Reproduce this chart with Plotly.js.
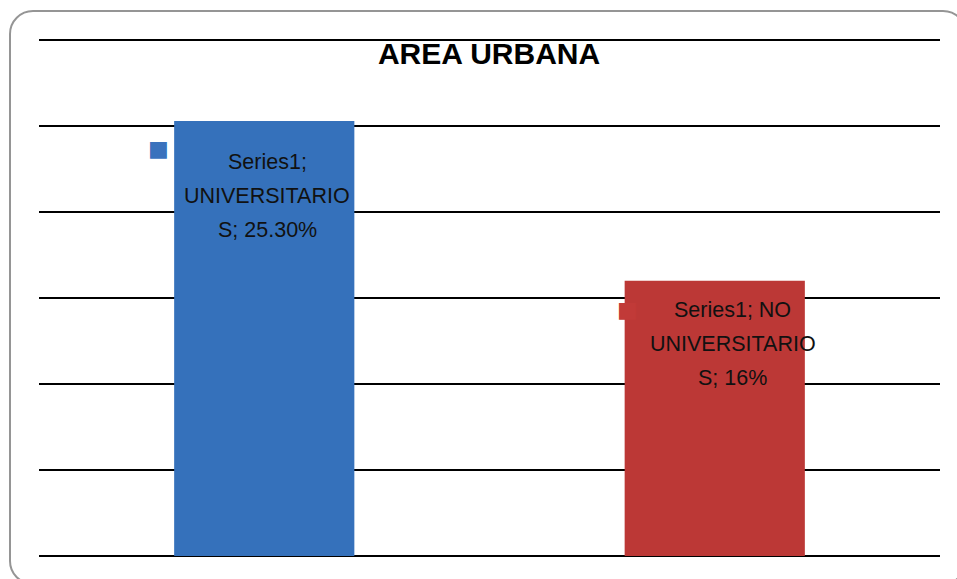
<!DOCTYPE html>
<html>
<head>
<meta charset="utf-8">
<script src="https://cdn.plot.ly/plotly-3.0.1.min.js"></script>
<style>
html,body{margin:0;padding:0;background:#fff;overflow:hidden;}
#chart{width:957px;height:579px;}
#frame{position:absolute;left:9px;top:10px;width:958px;height:575px;border:2px solid #959595;border-radius:24px;pointer-events:none;box-sizing:border-box;}
</style>
</head>
<body>
<div id="chart"></div>
<div id="frame"></div>
<script>
const categories = ["UNIVERSITARIOS", "NO UNIVERSITARIOS"];
const values = [25.3, 16];
const labelLines = [["Series1;", "UNIVERSITARIO", "S; 25.30%"], ["Series1; NO", "UNIVERSITARIO", "S; 16%"]];
const colors = ["#3571bb", "#bc3836"];
const keyColors = ["#3a72bd", "#c13a38"];
const yTicks = [0, 5, 10, 15, 20, 25, 30];

const trace = {
  type: "bar",
  x: categories,
  y: values,
  marker: {color: colors, line: {width: 0}},
  hoverinfo: "none"
};

const labelStyle = [{xshift: 3, yshift0: -41}, {xshift: 18, yshift0: -29}];
const annotations = [];
categories.forEach((c, i) => {
  labelLines[i].forEach((t, k) => {
    annotations.push({x: c, y: values[i], xref: "x", yref: "y", text: t, showarrow: false,
      xanchor: "center", yanchor: "middle",
      xshift: labelStyle[i].xshift, yshift: labelStyle[i].yshift0 - 34 * k,
      font: {family: "Liberation Sans, Arial", size: 21.5, color: "#111"}});
  });
});
// legend keys
const keyShift = [{x: -106, y: -28}, {x: -87, y: -29}];
categories.forEach((c, i) => {
  annotations.push({x: c, y: values[i], xref: "x", yref: "y", text: "■", showarrow: false,
    xanchor: "center", yanchor: "middle", xshift: keyShift[i].x, yshift: keyShift[i].y,
    font: {family: "DejaVu Sans", size: 22, color: keyColors[i]}});
});

const layout = {
  width: 957, height: 579,
  margin: {l: 39, r: 17, t: 38, b: 21, pad: 0},
  paper_bgcolor: "#fff", plot_bgcolor: "#fff",
  title: {text: "<b>AREA URBANA</b>", x: 0.511, xanchor: "center", y: 0.908, yanchor: "middle",
    font: {family: "Liberation Sans, Arial", size: 30, color: "#000"}},
  bargap: 0.6,
  showlegend: false,
  xaxis: {showticklabels: false, showgrid: false, zeroline: false, showline: false, ticks: ""},
  yaxis: {range: [-0.12, 30.12], tickvals: yTicks, showticklabels: false, showgrid: true,
    gridcolor: "#000", gridwidth: 2, zeroline: true, zerolinecolor: "#000", zerolinewidth: 2,
    showline: false, ticks: ""},
  annotations: annotations
};

Plotly.newPlot("chart", [trace], layout, {displayModeBar: false, staticPlot: true});
</script>
</body>
</html>
